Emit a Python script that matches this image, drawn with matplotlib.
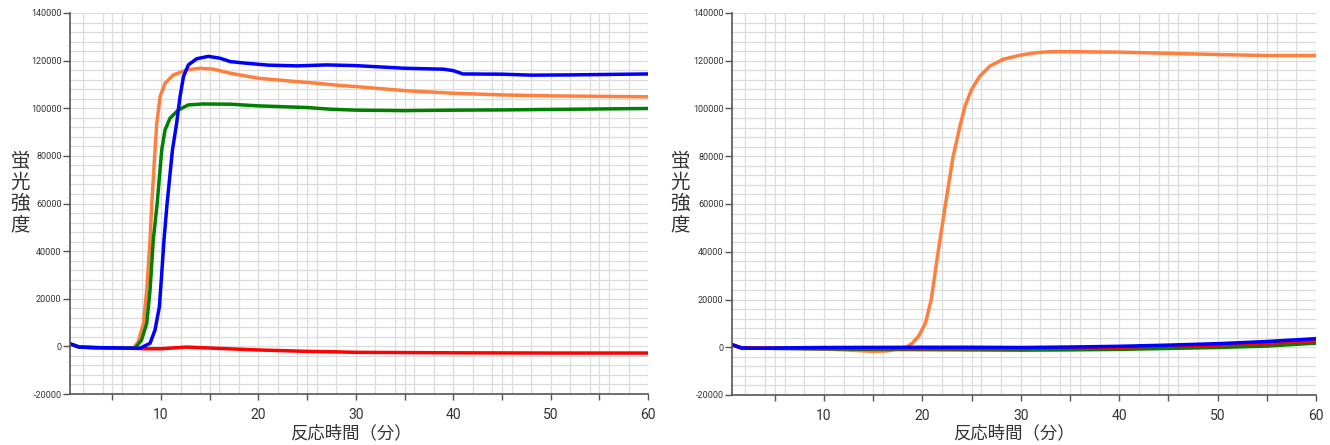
import numpy as np
import matplotlib
matplotlib.use('Agg')
import matplotlib.pyplot as plt
from matplotlib.ticker import FixedLocator, FuncFormatter

# ---- 左パネル ----
L_RED_T = [0.7, 1.6, 3, 5, 7, 8.5, 10, 12.6, 15, 20, 25, 28, 30, 35, 40, 45, 50, 55, 60]
L_RED_V = [1000, -300, -500, -700, -800, -1000, -1000, -300, -700, -1500, -2100, -2300, -2500, -2600, -2700, -2750, -2800, -2800, -2800]

L_ORA_T = [0.7, 1.6, 3, 5, 7.16, 7.67, 8.19, 8.53, 8.87, 9.05, 9.38, 9.56, 9.9, 10.41, 11.27, 12.64, 14.0, 15.4, 17.1, 20, 23, 26, 28, 30, 35, 40, 45, 50, 55, 60]
L_ORA_V = [1000, -300, -500, -700, -800, 2000, 9700, 23700, 44700, 60000, 82500, 93700, 104900, 110500, 114000, 116100, 116800, 116400, 114700, 112600, 111500, 110500, 109700, 109100, 107400, 106300, 105600, 105200, 105000, 104800]

L_GRN_T = [0.7, 1.6, 3, 5, 7.33, 8.0, 8.53, 8.87, 9.2, 9.6, 10.07, 10.41, 10.92, 11.78, 12.8, 14.35, 17.1, 20, 25, 27.4, 30, 35, 40, 45, 50, 55, 60]
L_GRN_V = [1000, -300, -500, -700, -800, 2700, 9700, 23700, 44700, 60000, 82500, 90900, 95800, 99300, 101400, 101800, 101700, 101000, 100300, 99600, 99200, 99000, 99200, 99300, 99500, 99700, 99900]

L_BLU_T = [0.7, 1.6, 3, 5, 7.84, 8.87, 9.38, 9.83, 10.07, 10.3, 10.62, 11.17, 11.6, 11.95, 12.3, 12.8, 13.67, 14.86, 16.06, 17.1, 18.5, 21, 24, 27, 30, 35, 39, 40, 40.5, 41, 45, 48, 52, 56, 60]
L_BLU_V = [1000, -300, -500, -600, -800, 1300, 6900, 16700, 30700, 44700, 60000, 82500, 93700, 104900, 113300, 118200, 120800, 121800, 121000, 119600, 119000, 118100, 117800, 118200, 117900, 116800, 116400, 115800, 115100, 114400, 114300, 113900, 114000, 114200, 114400]

# ---- 右パネル ----
R_ORA_T = [0.7, 1.6, 3, 6, 10, 13, 15, 16.5, 17.5, 18.4, 19.0, 19.6, 20.3, 20.9, 21.6, 22.35, 23.1, 23.82, 24.33, 25.0, 25.85, 26.87, 28.2, 29.9, 31.6, 33, 35, 40, 45, 50, 55, 60]
R_ORA_V = [1000, -300, -400, -500, -700, -1300, -1700, -1500, -700, 0, 1800, 4600, 10000, 20000, 40000, 60000, 79400, 92600, 101000, 108000, 113600, 117800, 120600, 122300, 123400, 123800, 123800, 123600, 123100, 122600, 122200, 122200]

R_GRN_T = [0.7, 1.6, 5, 10, 15, 20, 25, 30, 35, 40, 45, 50, 55, 60]
R_GRN_V = [1000, -300, -500, -700, -900, -1000, -1100, -1200, -1100, -900, -500, -100, 500, 1700]

R_RED_T = [0.7, 1.6, 5, 10, 20, 30, 40, 45, 50, 55, 60]
R_RED_V = [1000, -300, -400, -500, -600, -500, 0, 500, 900, 1600, 2700]

R_BLU_T = [0.7, 1.6, 3, 10, 20, 25, 30, 35, 40, 45, 50, 55, 60]
R_BLU_V = [1000, -300, -400, -100, 0, 0, -100, 100, 400, 900, 1500, 2400, 3600]

ORANGE = '#ff7f3f'
BLUE = '#0000ff'
GREEN = '#008000'
RED = '#ff0000'

JP = ['Noto Sans CJK JP', 'DejaVu Sans']
TICKFONT = ['Liberation Sans Narrow', 'Roboto', 'DejaVu Sans']

fig = plt.figure(figsize=(13.3, 4.45), dpi=100)


def setup_axes(ax):
    ax.set_xlim(0.65, 60)
    ax.set_ylim(-20000, 140000)
    ax.xaxis.set_major_locator(FixedLocator(np.arange(5, 61, 5)))
    ax.xaxis.set_minor_locator(FixedLocator(np.arange(2, 61, 2)))
    ax.yaxis.set_major_locator(FixedLocator(np.arange(-20000, 140001, 20000)))
    ax.yaxis.set_minor_locator(FixedLocator(np.arange(-20000, 140001, 4000)))
    ax.xaxis.set_major_formatter(FuncFormatter(lambda v, p: f'{int(v)}' if int(v) % 10 == 0 else ''))
    ax.yaxis.set_major_formatter(FuncFormatter(lambda v, p: f'{int(v)}'))
    ax.grid(True, which='both', color='#dcdcdc', lw=0.9, zorder=0)
    ax.set_axisbelow(True)
    for s in ['top', 'right']:
        ax.spines[s].set_visible(False)
    for s in ['left', 'bottom']:
        ax.spines[s].set_color('#555555')
        ax.spines[s].set_linewidth(1.2)
    ax.tick_params(axis='x', which='major', length=4, width=1, color='#555555', pad=6,
                   labelsize=10, labelcolor='#333333')
    ax.tick_params(axis='y', which='major', length=5, width=1, color='#555555', pad=1,
                   labelsize=6.5, labelcolor='#333333')
    ax.tick_params(which='minor', length=0)
    for lab in ax.get_xticklabels() + ax.get_yticklabels():
        lab.set_family(TICKFONT)


ax1 = fig.add_axes([70 / 1330, 51 / 445, 578 / 1330, 381 / 445])
setup_axes(ax1)
ax1.plot(L_RED_T, L_RED_V, color=RED, lw=2.5, solid_capstyle='round', solid_joinstyle='round')
ax1.plot(L_ORA_T, L_ORA_V, color=ORANGE, lw=2.5, solid_capstyle='round', solid_joinstyle='round')
ax1.plot(L_GRN_T, L_GRN_V, color=GREEN, lw=2.5, solid_capstyle='round', solid_joinstyle='round')
ax1.plot(L_BLU_T, L_BLU_V, color=BLUE, lw=2.5, solid_capstyle='round', solid_joinstyle='round')

ax2 = fig.add_axes([732 / 1330, 50 / 445, 584 / 1330, 382 / 445])
setup_axes(ax2)
ax2.plot(R_ORA_T, R_ORA_V, color=ORANGE, lw=2.5, solid_capstyle='round', solid_joinstyle='round')
ax2.plot(R_GRN_T, R_GRN_V, color=GREEN, lw=2.5, solid_capstyle='round', solid_joinstyle='round')
ax2.plot(R_RED_T, R_RED_V, color=RED, lw=2.5, solid_capstyle='round', solid_joinstyle='round')
ax2.plot(R_BLU_T, R_BLU_V, color=BLUE, lw=2.5, solid_capstyle='round', solid_joinstyle='round')

# 軸ラベル
for xc in [20, 680]:
    fig.text(xc / 1330, 1 - 193 / 445, '蛍\n光\n強\n度', family=JP, fontsize=14,
             color='#333333', ha='center', va='center', linespacing=1.0)
for xc in [351, 1014]:
    fig.text(xc / 1330, 1 - 433 / 445, '反応時間（分）', family=JP, fontsize=12.5,
             color='#333333', ha='center', va='center')

fig.savefig('out.png', dpi=100)
